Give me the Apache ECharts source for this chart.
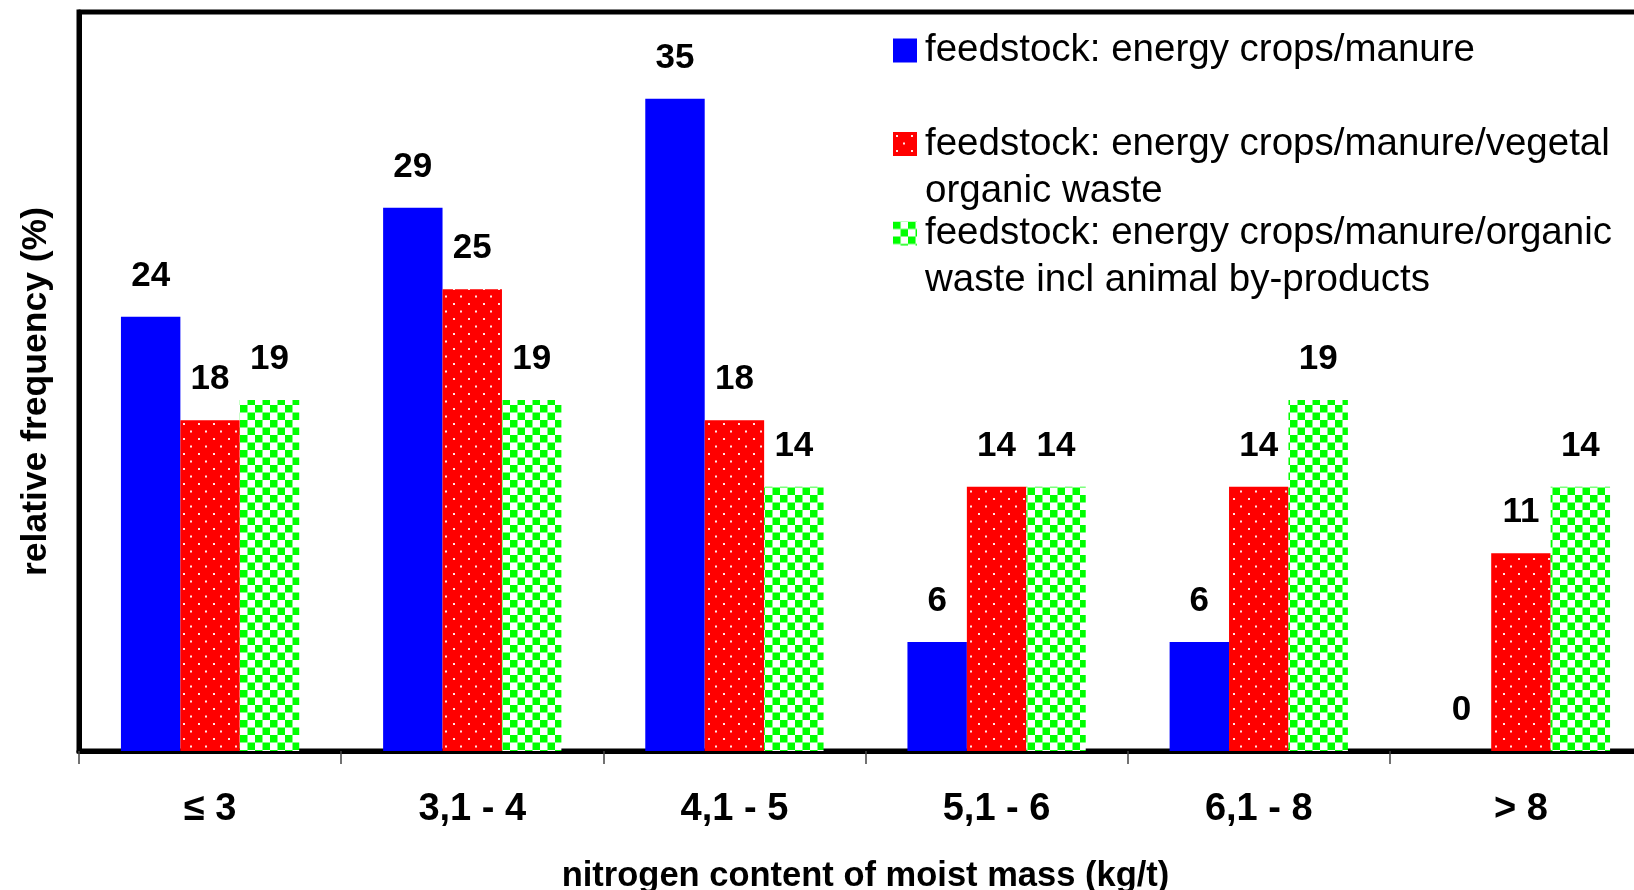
<!DOCTYPE html>
<html><head><meta charset="utf-8">
<script src="https://cdn.jsdelivr.net/npm/echarts@6/dist/echarts.min.js"></script>
<style>html,body{margin:0;padding:0;background:#fff}#c{width:1634px;height:890px}</style>
</head><body><div id="c"></div>
<script>
const categories = ['≤ 3', '3,1 - 4', '4,1 - 5', '5,1 - 6', '6,1 - 8', '> 8'];
const seriesNames = [
  'feedstock: energy crops/manure',
  'feedstock: energy crops/manure/vegetal organic waste',
  'feedstock: energy crops/manure/organic waste incl animal by-products'
];
const legendLines = [
  ['feedstock: energy crops/manure'],
  ['feedstock: energy crops/manure/vegetal', 'organic waste'],
  ['feedstock: energy crops/manure/organic', 'waste incl animal by-products']
];
const energyCrops = [23.5, 29.4, 35.3, 5.9, 5.9, 0];
const vegetalWaste = [17.9, 25.0, 17.9, 14.3, 14.3, 10.7];
const animalByProducts = [19.0, 19.0, 14.3, 14.3, 19.0, 14.3];
const yAxisTitle = 'relative frequency (%)';
const xAxisTitle = 'nitrogen content of moist mass (kg/t)';

const FONT = '"Liberation Sans", Arial, Helvetica, sans-serif';

function dotTile() {
  const c = document.createElement('canvas'); c.width = 15; c.height = 15;
  const g = c.getContext('2d');
  g.fillStyle = '#ff0000'; g.fillRect(0, 0, 15, 15);
  g.fillStyle = 'rgba(255,230,230,1)';
  g.fillRect(3, 3, 2, 2); g.fillRect(10, 10.5, 2, 2);
  return c;
}
function checkTile() {
  const c = document.createElement('canvas'); c.width = 15; c.height = 15;
  const g = c.getContext('2d');
  g.fillStyle = '#ffffff'; g.fillRect(0, 0, 15, 15);
  g.fillStyle = '#00ff00';
  g.fillRect(0, 0, 7.5, 7.5); g.fillRect(7.5, 7.5, 7.5, 7.5);
  return c;
}
const fills = ['#0000ff', { image: dotTile(), repeat: 'repeat' }, { image: checkTile(), repeat: 'repeat' }];
const values = [energyCrops, vegetalWaste, animalByProducts];
const legendTops = [27, 73.5, 163];

const chart = echarts.init(document.getElementById('c'), null, { renderer: 'canvas' });
chart.setOption({
  animation: false,
  backgroundColor: '#fff',
  grid: { left: 79, top: 12, width: 1573, bottom: 139, outerBoundsMode: 'none', containLabel: false,
          show: true, borderColor: '#000', borderWidth: 5 },
  legend: legendLines.map((lines, i) => ({
    data: [seriesNames[i]],
    orient: 'vertical',
    left: 893, top: legendTops[i], padding: 0,
    icon: 'rect', itemWidth: 24, itemHeight: 24, selectedMode: false,
    formatter: () => (lines.length > 1 ? '\n' : '') + lines.join('\n'),
    textStyle: { fontSize: 38.5, lineHeight: 47, color: '#000', fontFamily: FONT, padding: [0, 0, 0, 3] }
  })),
  xAxis: {
    type: 'category', data: categories,
    axisLine: { show: true, lineStyle: { color: '#000', width: 5 } },
    axisTick: { show: true, length: 13, lineStyle: { color: '#444', width: 1.5 } },
    axisLabel: { margin: 40, fontSize: 38, fontWeight: 'bold', color: '#000', fontFamily: FONT },
    name: xAxisTitle, nameLocation: 'middle', nameGap: 108,
    nameTextStyle: { fontSize: 34.5, fontWeight: 'bold', color: '#000', fontFamily: FONT }
  },
  yAxis: {
    type: 'value', min: 0, max: 40,
    axisLine: { show: true, lineStyle: { color: '#000', width: 5 } },
    axisTick: { show: false }, axisLabel: { show: false }, splitLine: { show: false },
    name: yAxisTitle, nameLocation: 'middle', nameGap: 25,
    nameTextStyle: { fontSize: 35.5, fontWeight: 'bold', color: '#000', fontFamily: FONT, padding: [0, 20, 0, 0] }
  },
  series: values.map((v, i) => ({
    type: 'bar', name: seriesNames[i], data: v,
    barGap: '0%', barCategoryGap: '32%',
    itemStyle: { color: fills[i] },
    label: {
      show: true, position: 'top', distance: 23, color: '#000',
      fontSize: 35, fontWeight: 'bold', fontFamily: FONT,
      formatter: p => String(Math.round(p.value))
    }
  }))
});
</script>
</body></html>
